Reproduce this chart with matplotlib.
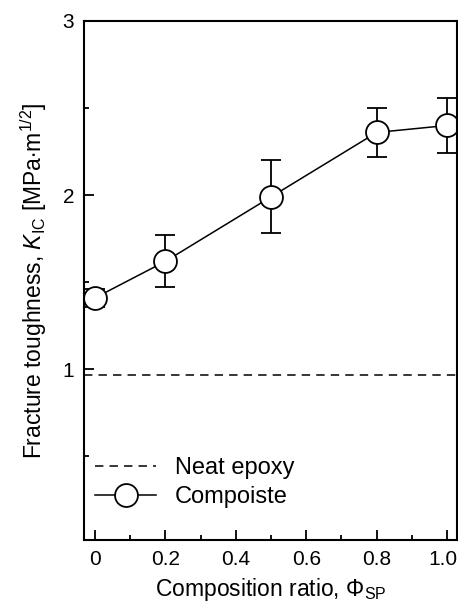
import matplotlib
matplotlib.use("Agg")
import matplotlib.pyplot as plt
import matplotlib.transforms as mtransforms
from matplotlib.lines import Line2D
from matplotlib.ticker import MultipleLocator

plt.rcParams['font.family'] = ['Liberation Sans', 'DejaVu Sans']
plt.rcParams['mathtext.fontset'] = 'custom'
plt.rcParams['mathtext.rm'] = 'Liberation Sans'
plt.rcParams['mathtext.it'] = 'Liberation Sans:italic'

# data
ratio = [0.0, 0.2, 0.5, 0.8, 1.0]
kic = [1.41, 1.62, 1.99, 2.36, 2.40]
kic_err = [0.05, 0.15, 0.21, 0.14, 0.16]
neat_epoxy = 0.97

fs = 16.5
tick_fs = 15
dash = (0, (5.5, 4))

fig = plt.figure(figsize=(4.58, 6.08), dpi=100)
ax = fig.add_axes([0.1834, 0.1118, 0.8144, 0.8537])

ax.axhline(neat_epoxy, color='black', linestyle=dash, linewidth=1.1)
ax.errorbar(ratio, kic, yerr=kic_err, color='black', linewidth=1.1,
            marker='o', markersize=16.5, markerfacecolor='white',
            markeredgecolor='black', markeredgewidth=1.3,
            capsize=7, elinewidth=1.3, capthick=1.3)

ax.set_xlim(-0.031, 1.028)
ax.set_ylim(0.02, 3.0)
ax.xaxis.set_minor_locator(MultipleLocator(0.1))
ax.yaxis.set_minor_locator(MultipleLocator(0.5))
ax.set_xticks([0, 0.2, 0.4, 0.6, 0.8, 1.0])
ax.set_xticklabels(['0', '0.2', '0.4', '0.6', '0.8', '1.0'])
ax.set_yticks([1, 2, 3])
ax.set_yticklabels(['1', '2', '3'])

ax.tick_params(which='both', direction='in', top=False, right=False,
               labelsize=tick_fs, width=1.3)
ax.tick_params(which='major', length=7, pad=7)
ax.tick_params(which='minor', length=3.5)
for s in ax.spines.values():
    s.set_linewidth(1.5)

# nudge "1.0" a little left so it stays inside the figure
last = ax.get_xticklabels()[-1]
last.set_transform(last.get_transform() +
                   mtransforms.ScaledTranslation(-4 / 100, 0, fig.dpi_scale_trans))

ax.set_xlabel(r'Composition ratio, $\Phi_{\rm SP}$', fontsize=fs, labelpad=5)
ax.set_ylabel(r'Fracture toughness, $K_{\rm IC}$ [MPa$\cdot$m$^{1/2}$]',
              fontsize=fs, labelpad=10)

# legend handles without the error caps
handles = [
    Line2D([], [], color='black', linestyle=dash, linewidth=1.1),
    Line2D([], [], color='black', linewidth=1.1, marker='o', markersize=16.5,
           markerfacecolor='white', markeredgecolor='black', markeredgewidth=1.3),
]
ax.legend(handles, ['Neat epoxy', 'Compoiste'], loc='lower left',
          bbox_to_anchor=(-0.015, 0.03), frameon=False, fontsize=17,
          handlelength=2.6, handletextpad=0.8, labelspacing=0.3,
          borderaxespad=0.3)

fig.savefig('out.png', dpi=100)
